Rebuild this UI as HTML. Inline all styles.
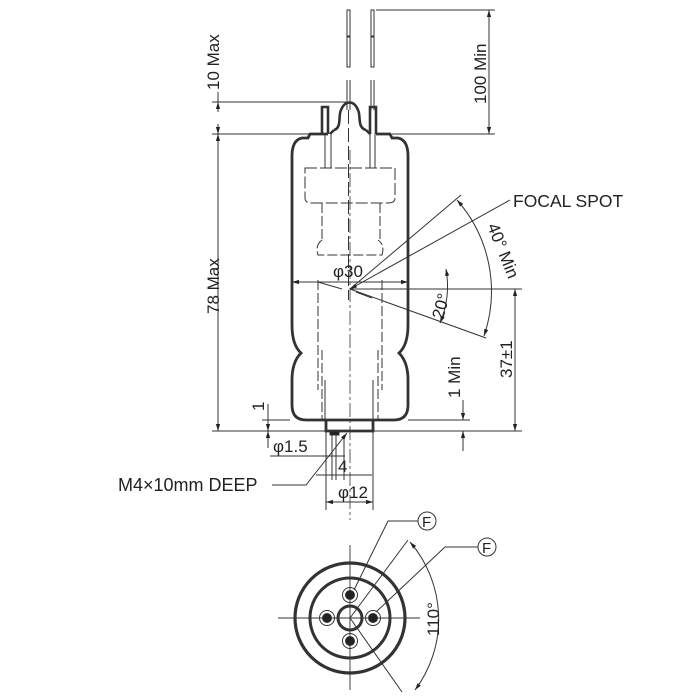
<!DOCTYPE html>
<html><head><meta charset="utf-8"><style>html,body{margin:0;padding:0;background:#fff}svg{display:block}text{font-family:"Liberation Sans",sans-serif;fill:#222}</style></head>
<body>
<svg width="700" height="700" viewBox="0 0 700 700" xmlns="http://www.w3.org/2000/svg">
<defs>
<marker id="a" viewBox="0 0 10 10" refX="10" refY="5" markerWidth="7" markerHeight="7" orient="auto-start-reverse"><path d="M0,2 L10,5 L0,8 z" fill="#222"/></marker>
</defs>
<g stroke="#333" fill="none" stroke-width="1">
<!-- leads -->
<rect x="347" y="10" width="3" height="26"/><rect x="371" y="10" width="3" height="26"/>
<rect x="347" y="37" width="3" height="30"/><rect x="371" y="37" width="3" height="30"/>
<path d="M347,80 V110 M350,80 V110 M371,80 V110 M374,80 V110"/>
<path d="M348.5,110 V300" stroke-dasharray="14,4"/>
<!-- top nipple -->
<path d="M322,134 V107 H328 V134" stroke-width="2.6"/>
<path d="M370,134 V107 H376 V134" stroke-width="2.6"/>
<path d="M334,130 C342,128 338,115 341,110 C345,100 354,100 358,110 C361,115 357,128 366,130" stroke-width="2.6"/>
<!-- body outline -->
<path d="M328,134 H310 L308,138 H302 Q292,140 292,156 V325 Q292,345 301,353 Q292,362 292,380 V405 Q292,420 306,420 H394 Q408,420 408,405 V380 Q408,362 399,353 Q408,345 408,325 V156 Q408,140 398,138 H392 L390,134 H376" stroke-width="2.8"/>
<path d="M334,130 L330,134 M366,130 L370,134" stroke-width="2.6"/>
<!-- stub -->
<path d="M326,420 V431 H373 V420" stroke-width="2.8"/>
<rect x="330" y="431" width="9" height="4" fill="#222"/>
<!-- internal -->
<path d="M325,134 V168 M331,134 V168 M370,134 V168 M375,134 V168"/>
<path d="M305,168 H395 V198 Q395,203 388,203 H312 Q305,203 305,198 Z" stroke-dasharray="12,3"/>
<path d="M322,203 V240 M380,203 V240" stroke-dasharray="10,3"/>
<path d="M322,240 Q315,245 318,255 H382 Q385,245 378,240" stroke-dasharray="10,3"/>
<path d="M318,280 V390 M382,280 V390 M322,350 V420 M378,350 V420" stroke-dasharray="10,3"/>
<path d="M325,380 V420 M373,380 V420"/>
<path d="M318,282 L342,289 M356,292 L372,298"/>
<!-- center line -->
<path d="M350,150 V520" stroke-dasharray="14,3,3,3" stroke-width="0.8"/>
<!-- dimension 10 max / 78 max -->
<path d="M212,102 H346"/><path d="M212,134 H322"/><path d="M212,431 H522"/>
<path d="M218,92 V102"/><path d="M218,112 V102" marker-end="url(#a)"/><path d="M218,124 V134" marker-end="url(#a)"/>
<path d="M218,134 V431" marker-start="url(#a)" marker-end="url(#a)"/>
<!-- 100 min -->
<path d="M376,10 H495 M392,134 H495"/>
<path d="M489,10 V134" marker-start="url(#a)" marker-end="url(#a)"/>
<!-- phi30 -->
<path d="M292,282 H408" marker-start="url(#a)" marker-end="url(#a)"/>
<!-- focal lines -->
<path d="M350,289 H522"/>
<path d="M350,289 L461,195"/>
<path d="M350,289 L486,338"/>
<path d="M510,200 L350,289" marker-end="url(#a)"/>
<path d="M515,289 V431" marker-start="url(#a)" marker-end="url(#a)"/>
<path d="M457,200 A138,138 0 0 1 484,336" marker-start="url(#a)" marker-end="url(#a)"/>
<path d="M446,269 A96,96 0 0 1 440,323" marker-start="url(#a)" marker-end="url(#a)"/>
<!-- 1 min -->
<path d="M408,420 H470"/>
<path d="M463,400 V420" marker-end="url(#a)"/><path d="M463,451 V431" marker-end="url(#a)"/>
<!-- 1 -->
<path d="M268,404 V431" marker-end="url(#a)"/><path d="M268,448 V431" marker-end="url(#a)"/>
<path d="M262,420 H290"/>
<!-- phi1.5 -->
<path d="M270,456 H345"/><path d="M332,435 V480 M336,435 V480"/>
<path d="M344,435 V480"/>
<path d="M316,475 H372"/>
<path d="M326,431 V510 M373,431 V510"/>
<path d="M326,502 H373" marker-start="url(#a)" marker-end="url(#a)"/>
<path d="M272,485 H306 L347,433" marker-end="url(#a)"/>
<!-- bottom view -->
<circle cx="350" cy="618" r="55" stroke-width="3.2"/>
<circle cx="350" cy="618" r="40" stroke-width="3"/>
<circle cx="350" cy="618" r="12" stroke-width="3"/>
<path d="M278,618 H420 M350,545 V690" stroke-width="0.9"/>
<circle cx="350" cy="595" r="7.5"/><circle cx="350" cy="641" r="7.5"/>
<circle cx="327" cy="618" r="7.5"/><circle cx="373" cy="618" r="7.5"/>
<circle cx="350" cy="595" r="4.5" fill="#222"/><circle cx="350" cy="641" r="4.5" fill="#222"/>
<circle cx="327" cy="618" r="4.5" fill="#222"/><circle cx="373" cy="618" r="4.5" fill="#222"/>
<path d="M354,590 L388,521 H418"/>
<path d="M376,612 L445,547 H478"/>
<path d="M350,618 L408,540 M350,618 L402,692"/>
<path d="M410,542 A118,118 0 0 1 415,690" marker-start="url(#a)" marker-end="url(#a)"/>
<circle cx="427" cy="521" r="9"/><circle cx="487" cy="547" r="9"/>
</g>
<g font-size="17">
<text x="0" y="0" transform="translate(219,90) rotate(-90)">10 Max</text>
<text x="0" y="0" transform="translate(486,104) rotate(-90)">100 Min</text>
<text x="0" y="0" transform="translate(219,314) rotate(-90)">78 Max</text>
<text x="333" y="277">φ30</text>
<text x="513" y="207" font-size="17.5">FOCAL SPOT</text>
<text x="0" y="0" transform="translate(487,226) rotate(68)">40° Min</text>
<text x="0" y="0" transform="translate(443,320) rotate(-75)">20°</text>
<text x="0" y="0" transform="translate(512,378) rotate(-90)">37±1</text>
<text x="0" y="0" transform="translate(460,398) rotate(-90)">1 Min</text>
<text x="0" y="0" transform="translate(264,411) rotate(-90)">1</text>
<text x="273" y="452">φ1.5</text>
<text x="338" y="472">4</text>
<text x="338" y="498">φ12</text>
<text x="118" y="491" font-size="18">M4×10mm DEEP</text>
<text x="0" y="0" transform="translate(439,636) rotate(-90)">110°</text>
<text x="422" y="527" font-size="15">F</text>
<text x="482" y="553" font-size="15">F</text>
</g>
</svg>
</body></html>
